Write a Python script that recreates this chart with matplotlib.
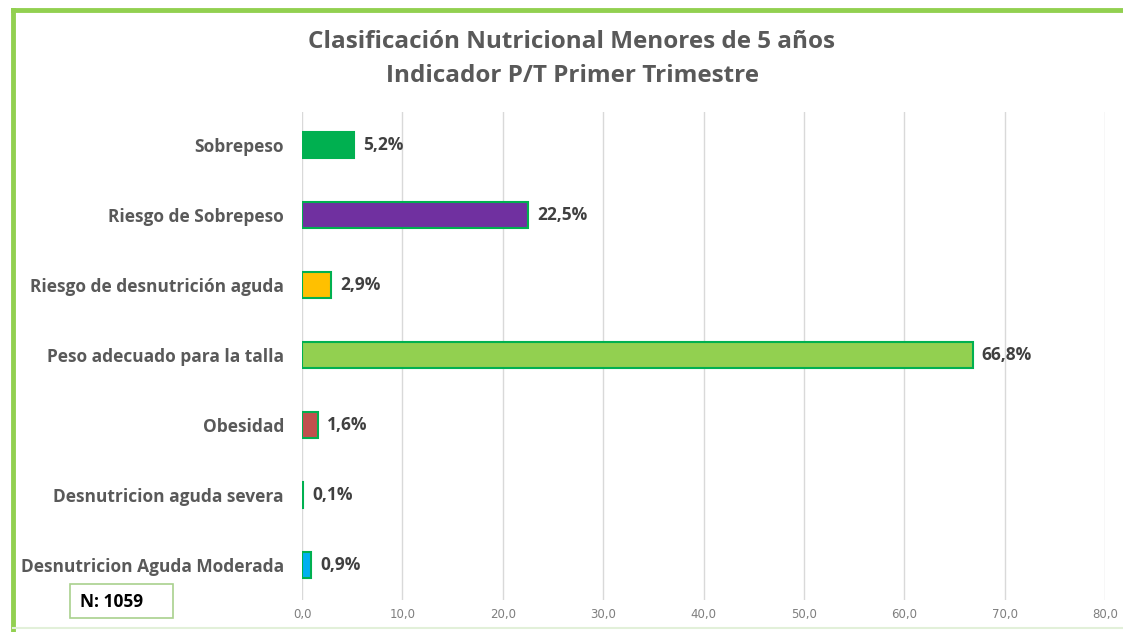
import matplotlib.pyplot as plt
from matplotlib.patches import Rectangle

categorias = ['Desnutricion Aguda Moderada', 'Desnutricion aguda severa', 'Obesidad',
              'Peso adecuado para la talla', 'Riesgo de desnutrición aguda',
              'Riesgo de Sobrepeso', 'Sobrepeso']
valores = [0.9, 0.1, 1.6, 66.8, 2.9, 22.5, 5.2]
colores = ['#00B0F0', '#00B050', '#C0504D', '#92D050', '#FFC000', '#7030A0', '#00B050']
etiquetas = ['0,9%', '0,1%', '1,6%', '66,8%', '2,9%', '22,5%', '5,2%']
ticks = [0, 10, 20, 30, 40, 50, 60, 70, 80]

plt.rcParams['font.family'] = ['Open Sans', 'DejaVu Sans']

fig = plt.figure(figsize=(11.23, 6.32), dpi=100)
W, H = 1123, 632

# marco verde
fig.add_artist(plt.Line2D([13 / W, 13 / W], [0, 1 - 10 / H], color='#92D050', lw=3.5))
fig.add_artist(plt.Line2D([13 / W, 1], [1 - 10 / H, 1 - 10 / H], color='#92D050', lw=3.5))
fig.add_artist(plt.Line2D([13 / W, 1], [4 / H, 4 / H], color='#E2F0D9', lw=1.5))

ax = fig.add_axes([302 / W, 32 / H, 803 / W, 488 / H])
ax.barh(range(len(valores)), valores, height=0.37, color=colores,
        edgecolor='#00B050', linewidth=1.5, zorder=3)
for i, (v, t) in enumerate(zip(valores, etiquetas)):
    ax.text(v + 0.9, i, t, va='center', ha='left', fontsize=12.5, fontweight='bold',
            color='#404040')

ax.set_xlim(0, 80)
ax.set_ylim(-0.5, 6.47)
ax.set_xticks(ticks)
ax.set_xticklabels(['%d,0' % t for t in ticks], fontsize=8.5, color='#7F7F7F',
                   family=['Liberation Sans Narrow', 'DejaVu Sans'])
ax.set_yticks(range(len(categorias)))
ax.set_yticklabels(categorias, fontsize=12.5, fontweight='bold', color='#595959')
ax.tick_params(axis='both', length=0)
ax.tick_params(axis='x', pad=6)
ax.tick_params(axis='y', pad=13)
ax.grid(axis='x', color='#D9D9D9', linewidth=1, zorder=0)
for s in ax.spines.values():
    s.set_visible(False)

fig.text(572 / W, 1 - 42 / H, 'Clasificación Nutricional Menores de 5 años',
         ha='center', va='center', fontsize=17.5, fontweight='bold', color='#595959')
fig.text(572 / W, 1 - 76 / H, 'Indicador P/T Primer Trimestre',
         ha='center', va='center', fontsize=17.5, fontweight='bold', color='#595959')

fig.patches.append(Rectangle((70 / W, 1 - 618 / H), 103 / W, 34 / H, transform=fig.transFigure,
                             fill=False, edgecolor='#A9D18E', linewidth=1.2))
fig.text(80 / W, 1 - 602 / H, 'N: 1059', ha='left', va='center', fontsize=12.5,
         fontweight='bold', color='black')

fig.savefig('out.png', dpi=100)
